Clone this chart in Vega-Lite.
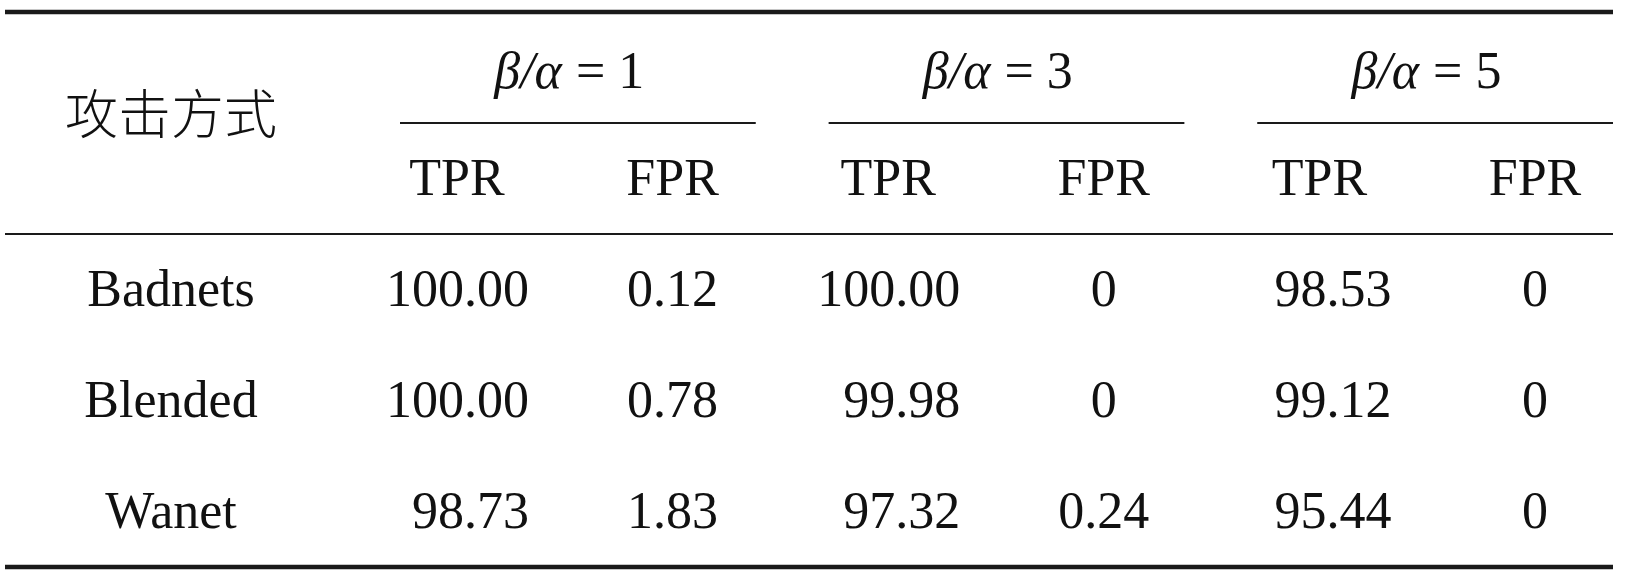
{
  "$schema": "https://vega.github.io/schema/vega-lite/v6.json",
  "width": 1608,
  "height": 580,
  "autosize": {"type": "none"},
  "padding": {"left": 5, "right": 16, "top": 0, "bottom": 0},
  "background": "white",
  "config": {
    "view": {"stroke": null},
    "text": {"font": "Liberation Serif", "fontSize": 52, "fill": "#111111"},
    "rule": {"color": "#1a1a1a"}
  },
  "datasets": {
    "groups": [
      {"row": "ratio", "ratio": "β/α = 1", "lhs": "β/α", "rhs": "= 1"},
      {"row": "ratio", "ratio": "β/α = 3", "lhs": "β/α", "rhs": "= 3"},
      {"row": "ratio", "ratio": "β/α = 5", "lhs": "β/α", "rhs": "= 5"}
    ],
    "metrics": [
      {"row": "metric", "column": "1-TPR", "label": "TPR"},
      {"row": "metric", "column": "1-FPR", "label": "FPR"},
      {"row": "metric", "column": "3-TPR", "label": "TPR"},
      {"row": "metric", "column": "3-FPR", "label": "FPR"},
      {"row": "metric", "column": "5-TPR", "label": "TPR"},
      {"row": "metric", "column": "5-FPR", "label": "FPR"}
    ],
    "attacks": [
      {"row": "Badnets", "column": "攻击方式", "label": "Badnets"},
      {"row": "Blended", "column": "攻击方式", "label": "Blended"},
      {"row": "Wanet", "column": "攻击方式", "label": "Wanet"}
    ],
    "cells": [
      {"row": "Badnets", "ratio": "β/α = 1", "metric": "TPR", "column": "1-TPR", "value": "100.00"},
      {"row": "Badnets", "ratio": "β/α = 1", "metric": "FPR", "column": "1-FPR", "value": "0.12"},
      {"row": "Badnets", "ratio": "β/α = 3", "metric": "TPR", "column": "3-TPR", "value": "100.00"},
      {"row": "Badnets", "ratio": "β/α = 3", "metric": "FPR", "column": "3-FPR", "value": "0"},
      {"row": "Badnets", "ratio": "β/α = 5", "metric": "TPR", "column": "5-TPR", "value": "98.53"},
      {"row": "Badnets", "ratio": "β/α = 5", "metric": "FPR", "column": "5-FPR", "value": "0"},
      {"row": "Blended", "ratio": "β/α = 1", "metric": "TPR", "column": "1-TPR", "value": "100.00"},
      {"row": "Blended", "ratio": "β/α = 1", "metric": "FPR", "column": "1-FPR", "value": "0.78"},
      {"row": "Blended", "ratio": "β/α = 3", "metric": "TPR", "column": "3-TPR", "value": "99.98"},
      {"row": "Blended", "ratio": "β/α = 3", "metric": "FPR", "column": "3-FPR", "value": "0"},
      {"row": "Blended", "ratio": "β/α = 5", "metric": "TPR", "column": "5-TPR", "value": "99.12"},
      {"row": "Blended", "ratio": "β/α = 5", "metric": "FPR", "column": "5-FPR", "value": "0"},
      {"row": "Wanet", "ratio": "β/α = 1", "metric": "TPR", "column": "1-TPR", "value": "98.73"},
      {"row": "Wanet", "ratio": "β/α = 1", "metric": "FPR", "column": "1-FPR", "value": "1.83"},
      {"row": "Wanet", "ratio": "β/α = 3", "metric": "TPR", "column": "3-TPR", "value": "97.32"},
      {"row": "Wanet", "ratio": "β/α = 3", "metric": "FPR", "column": "3-FPR", "value": "0.24"},
      {"row": "Wanet", "ratio": "β/α = 5", "metric": "TPR", "column": "5-TPR", "value": "95.44"},
      {"row": "Wanet", "ratio": "β/α = 5", "metric": "FPR", "column": "5-FPR", "value": "0"}
    ]
  },
  "encoding": {
    "y": {
      "field": "row", "type": "nominal", "axis": null,
      "scale": {"type": "band", "domain": ["ratio", "metric", "Badnets", "Blended", "Wanet"], "range": [12, 567], "paddingInner": 0, "paddingOuter": 0}
    }
  },
  "resolve": {"scale": {"x": "independent"}},
  "layer": [
    {
      "data": {"values": [{"row": "ratio"}]},
      "mark": {"type": "rule", "strokeWidth": 4.5},
      "encoding": {
        "y": {"field": "row", "type": "nominal", "axis": null, "bandPosition": 0,
          "scale": {"type": "band", "domain": ["ratio", "metric", "Badnets", "Blended", "Wanet"], "range": [12, 567], "paddingInner": 0, "paddingOuter": 0}}
      }
    },
    {
      "data": {"values": [{"row": "Wanet"}]},
      "mark": {"type": "rule", "strokeWidth": 4.5},
      "encoding": {
        "y": {"field": "row", "type": "nominal", "axis": null, "bandPosition": 1,
          "scale": {"type": "band", "domain": ["ratio", "metric", "Badnets", "Blended", "Wanet"], "range": [12, 567], "paddingInner": 0, "paddingOuter": 0}}
      }
    },
    {
      "data": {"values": [{"row": "metric"}]},
      "mark": {"type": "rule", "strokeWidth": 2.2},
      "encoding": {
        "y": {"field": "row", "type": "nominal", "axis": null, "bandPosition": 1,
          "scale": {"type": "band", "domain": ["ratio", "metric", "Badnets", "Blended", "Wanet"], "range": [12, 567], "paddingInner": 0, "paddingOuter": 0}}
      }
    },
    {
      "data": {"name": "groups"},
      "mark": {"type": "rule", "strokeWidth": 2},
      "encoding": {
        "x": {"field": "ratio", "type": "nominal", "axis": null, "bandPosition": 0,
          "scale": {"type": "band", "domain": ["β/α = 1", "β/α = 3", "β/α = 5"], "range": [395, 1608], "paddingInner": 0.17, "paddingOuter": 0}},
        "x2": {"field": "ratio", "bandPosition": 1},
        "y": {"field": "row", "type": "nominal", "axis": null, "bandPosition": 1,
          "scale": {"type": "band", "domain": ["ratio", "metric", "Badnets", "Blended", "Wanet"], "range": [12, 567], "paddingInner": 0, "paddingOuter": 0}}
      }
    },
    {
      "data": {"name": "groups"},
      "mark": {"type": "text", "fontStyle": "italic", "align": "right", "dx": -16, "dy": 4},
      "encoding": {
        "x": {"field": "ratio", "type": "nominal", "axis": null, "bandPosition": 0.5,
          "scale": {"type": "band", "domain": ["β/α = 1", "β/α = 3", "β/α = 5"], "range": [395, 1608], "paddingInner": 0.17, "paddingOuter": 0}},
        "text": {"field": "lhs"}
      }
    },
    {
      "data": {"name": "groups"},
      "mark": {"type": "text", "align": "left", "dx": -2, "dy": 4},
      "encoding": {
        "x": {"field": "ratio", "type": "nominal", "axis": null, "bandPosition": 0.5,
          "scale": {"type": "band", "domain": ["β/α = 1", "β/α = 3", "β/α = 5"], "range": [395, 1608], "paddingInner": 0.17, "paddingOuter": 0}},
        "text": {"field": "rhs"}
      }
    },
    {
      "data": {"name": "metrics"},
      "mark": {"type": "text"},
      "encoding": {
        "x": {"field": "column", "type": "nominal", "axis": null,
          "scale": {"type": "point", "domain": ["1-TPR", "1-FPR", "3-TPR", "3-FPR", "5-TPR", "5-FPR"], "range": [452, 1530], "padding": 0}},
        "text": {"field": "label"}
      }
    },
    {
      "data": {"name": "cells"},
      "transform": [{"filter": "datum.metric == 'TPR'"}],
      "mark": {"type": "text", "align": "right", "dx": 72},
      "encoding": {
        "x": {"field": "column", "type": "nominal", "axis": null,
          "scale": {"type": "point", "domain": ["1-TPR", "1-FPR", "3-TPR", "3-FPR", "5-TPR", "5-FPR"], "range": [452, 1530], "padding": 0}},
        "text": {"field": "value"}
      }
    },
    {
      "data": {"name": "cells"},
      "transform": [{"filter": "datum.metric == 'FPR'"}],
      "mark": {"type": "text"},
      "encoding": {
        "x": {"field": "column", "type": "nominal", "axis": null,
          "scale": {"type": "point", "domain": ["1-TPR", "1-FPR", "3-TPR", "3-FPR", "5-TPR", "5-FPR"], "range": [452, 1530], "padding": 0}},
        "text": {"field": "value"}
      }
    },
    {
      "data": {"name": "attacks"},
      "mark": {"type": "text"},
      "encoding": {
        "x": {"field": "column", "type": "nominal", "axis": null, "bandPosition": 0.5,
          "scale": {"type": "band", "domain": ["攻击方式"], "range": [0, 332]}},
        "text": {"field": "label"}
      }
    },
    {
      "data": {"values": [{"row": "ratio", "column": "攻击方式", "label": "攻击方式"}]},
      "mark": {"type": "text", "font": "Noto Sans CJK SC", "fontSize": 53, "fontWeight": 300, "dy": -5},
      "encoding": {
        "x": {"field": "column", "type": "nominal", "axis": null, "bandPosition": 0.5,
          "scale": {"type": "band", "domain": ["攻击方式"], "range": [0, 332]}},
        "y": {"field": "row", "type": "nominal", "axis": null, "bandPosition": 1,
          "scale": {"type": "band", "domain": ["ratio", "metric", "Badnets", "Blended", "Wanet"], "range": [12, 567], "paddingInner": 0, "paddingOuter": 0}},
        "text": {"field": "label"}
      }
    }
  ]
}
